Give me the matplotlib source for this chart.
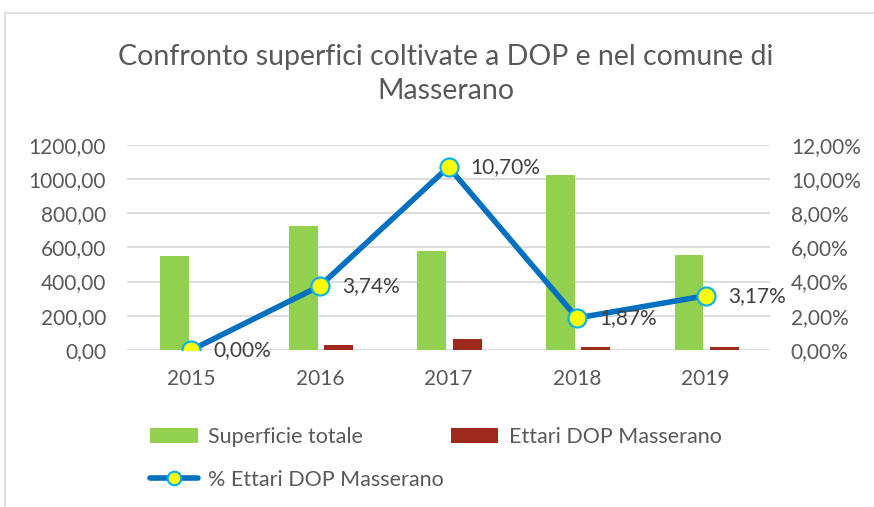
import numpy as np
import matplotlib
matplotlib.use("Agg")
import matplotlib.pyplot as plt
from matplotlib.ticker import FuncFormatter
from matplotlib.patches import Rectangle

anni = ["2015", "2016", "2017", "2018", "2019"]
superficie_totale = [549, 725, 580, 1023, 557]
ettari_dop = [0, 27.1, 62.1, 19.1, 17.7]
perc_dop = [0.0, 3.74, 10.70, 1.87, 3.17]

plt.rcParams['font.family'] = ['Lato', 'DejaVu Sans']
grigio = '#595959'

fig = plt.figure(figsize=(8.74, 5.07), dpi=100)
ax = fig.add_axes([127/874, 1 - 350/507, (770 - 127)/874, (350 - 144.7)/507])
ax2 = ax.twinx()

x = np.arange(len(anni))
w = 0.225
ax.bar(x - 0.13, superficie_totale, w, color='#92D050', label='Superficie totale', zorder=2)
ax.bar(x + 0.145, ettari_dop, w, color='#9E2A1E', label='Ettari DOP Masserano', zorder=2)

ax.set_ylim(0, 1200)
ax.set_yticks(np.arange(0, 1201, 200))
ax.yaxis.set_major_formatter(FuncFormatter(lambda v, p: f"{v:.2f}".replace('.', ',')))
ax.set_xlim(-0.5, 4.5)
ax.set_xticks(x)
ax.set_xticklabels(anni)
ax.grid(axis='y', color='#D9D9D9', linewidth=1.3, zorder=0)
ax.set_axisbelow(True)

ax2.plot(x, perc_dop, color='#0070C0', linewidth=4, marker='o', markersize=13,
         markerfacecolor='#FFFF00', markeredgecolor='#00B0F0', markeredgewidth=1.5,
         label='% Ettari DOP Masserano', zorder=5, solid_capstyle='round')
ax2.set_ylim(0, 12)
ax2.set_yticks(np.arange(0, 12.1, 2))
ax2.yaxis.set_major_formatter(FuncFormatter(lambda v, p: f"{v:.2f}%".replace('.', ',')))

for xi, p in zip(x, perc_dop):
    ax2.annotate(f"{p:.2f}%".replace('.', ','), (xi, p), xytext=(16, 0),
                 textcoords='offset points', va='center', ha='left',
                 fontsize=15, color='#404040', zorder=6)

for a in (ax, ax2):
    for s in a.spines.values():
        s.set_visible(False)
    a.tick_params(length=0, labelsize=15, labelcolor=grigio)
ax.tick_params(axis='y', pad=15)
ax.tick_params(axis='x', pad=14)
ax2.tick_params(axis='y', pad=15)

fig.text(0.51, 1 - 74/507, "Confronto superfici coltivate a DOP e nel comune di\nMasserano",
         ha='center', va='center', fontsize=20.5, color=grigio,
         linespacing=1.35)

h1, l1 = ax.get_legend_handles_labels()
h2, l2 = ax2.get_legend_handles_labels()
handles = [h1[0], h2[0], h1[1]]
labels = [l1[0], l2[0], l1[1]]
fig.legend(handles, labels, loc='upper left', bbox_to_anchor=(131/874, 1 - 408/507),
           ncol=2, frameon=False, fontsize=15.5, labelcolor=grigio,
           handlelength=2.2, handleheight=0.7, handletextpad=0.5,
           columnspacing=0.3, labelspacing=1.05, markerscale=0.75)

fig.patches.append(Rectangle((5/874, -0.1), 1.2, 1 - 13/507 + 0.1, transform=fig.transFigure,
                             fill=False, edgecolor='#D9D9D9', linewidth=1.2))

fig.savefig("out.png", dpi=100)
